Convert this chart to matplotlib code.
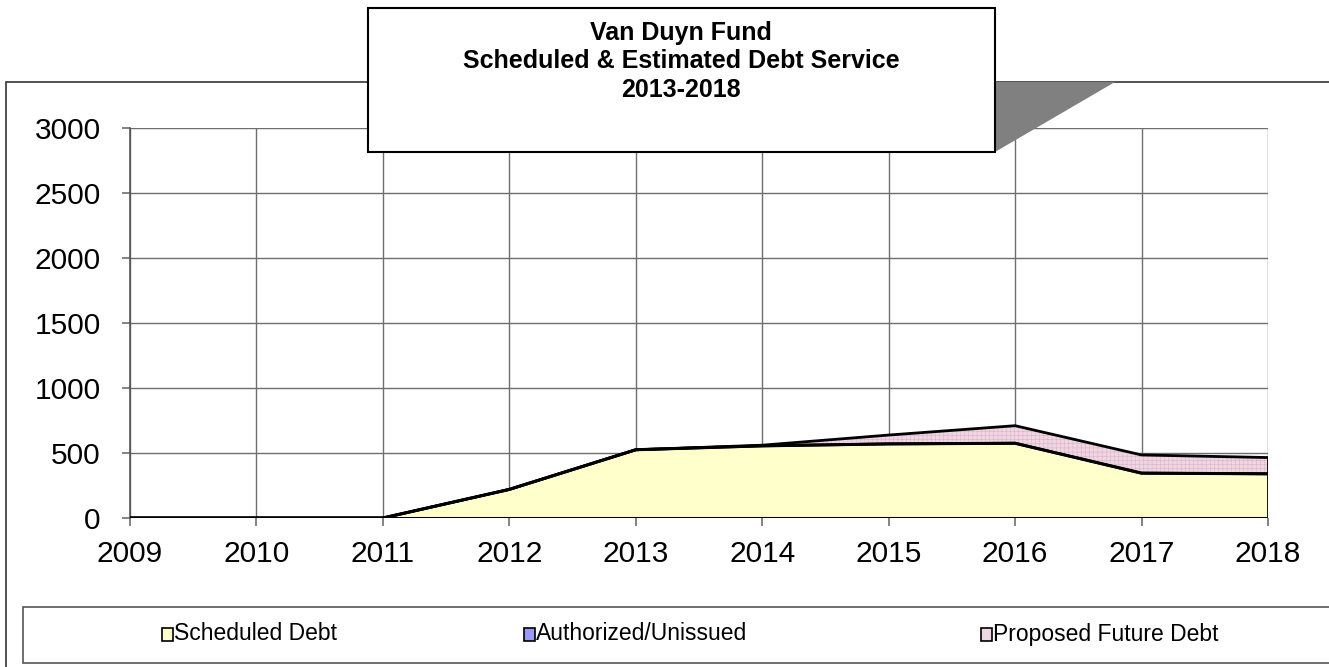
import numpy as np
import matplotlib
matplotlib.use("Agg")
import matplotlib.pyplot as plt
from matplotlib.patches import Rectangle, Polygon

plt.rcParams['font.family'] = ['Liberation Sans', 'DejaVu Sans']

# данные
years = [2009, 2010, 2011, 2012, 2013, 2014, 2015, 2016, 2017, 2018]
scheduled = [0, 0, 0, 220, 525, 555, 570, 575, 345, 340]
authorized = [0, 0, 0, 0, 0, 0, 0, 0, 0, 0]
proposed = [0, 0, 0, 0, 0, 5, 68, 135, 140, 125]

title_lines = ["Van Duyn Fund", "Scheduled & Estimated Debt Service", "2013-2018"]
legend_labels = ["Scheduled Debt", "Authorized/Unissued", "Proposed Future Debt"]
colors = ["#FFFFCC", "#9999FF", "#F0D6E2"]

W, H = 1329, 667
fig = plt.figure(figsize=(W / 100, H / 100), dpi=100)


def fx(x):
    return x / W


def fy(y):
    return 1 - y / H


ax = fig.add_axes([fx(130), fy(518), fx(1268) - fx(130), fy(128) - fy(518)])

s = np.array(scheduled, dtype=float)
a = s + np.array(authorized)
p = a + np.array(proposed)

ax.fill_between(years, 0, s, facecolor=colors[0], edgecolor='none', zorder=2)
ax.fill_between(years, s, a, facecolor=colors[1], edgecolor='none', zorder=2)
plt.rcParams['hatch.color'] = '#D8B4C6'
plt.rcParams['hatch.linewidth'] = 0.4
ax.fill_between(years, a, p, facecolor=colors[2], edgecolor='none', hatch='++++', zorder=2)
ax.plot(years, p, color='black', lw=2, zorder=3)
ax.plot(years, a, color='black', lw=2, zorder=3)
ax.plot(years, s, color='black', lw=2.2, zorder=3)
ax.plot([years[-1], years[-1]], [0, p[-1]], color='black', lw=2, zorder=3)
ax.axhline(0, color='black', lw=2.2, zorder=4)

ax.set_xlim(2009, 2018)
ax.set_ylim(0, 3000)
ax.set_xticks(years)
ax.set_yticks(range(0, 3001, 500))
ax.grid(True, color='#6E6E6E', lw=1.0, zorder=1)
ax.set_axisbelow(True)
for sp in ['top', 'right', 'bottom']:
    ax.spines[sp].set_visible(False)
ax.spines['left'].set_color('#555555')
ax.spines['left'].set_linewidth(1.2)
ax.tick_params(axis='both', direction='out', length=6, width=1.2, color='#6E6E6E',
               labelsize=21.5)
ax.tick_params(axis='y', pad=15)
ax.tick_params(axis='x', pad=10)

# внешняя рамка диаграммы
fig.patches.append(Rectangle((fx(6), fy(700)), fx(1400) - fx(6), fy(82) - fy(700),
                             transform=fig.transFigure, fill=False, edgecolor='#333333',
                             lw=1.2, zorder=0, clip_on=False))

# легенда
fig.patches.append(Rectangle((fx(23), fy(663)), fx(1400) - fx(23), fy(607) - fy(663),
                             transform=fig.transFigure, facecolor='white', edgecolor='#555555',
                             lw=1.2, zorder=5, clip_on=False))
leg_x = [162, 524, 981]
for lx, lab, col in zip(leg_x, legend_labels, colors):
    fig.patches.append(Rectangle((fx(lx), fy(641)), fx(11), 13 / H,
                                 transform=fig.transFigure, facecolor=col,
                                 edgecolor='black', lw=1.2, zorder=6))
    fig.text(fx(lx + 12), fy(634), lab, fontsize=16.5, va='center', ha='left', zorder=7)

# заголовок с тенью
fig.patches.append(Polygon([(fx(995), fy(82)), (fx(1115), fy(82)), (fx(995), fy(152))],
                           closed=True, transform=fig.transFigure, facecolor='#808080',
                           edgecolor='none', zorder=8))
fig.patches.append(Rectangle((fx(368), fy(152)), fx(995) - fx(368), fy(8) - fy(152),
                             transform=fig.transFigure, facecolor='white', edgecolor='black',
                             lw=1.5, zorder=9))
for i, line in enumerate(title_lines):
    fig.text(fx(681), fy(33 + 28.5 * i), line, fontsize=18, fontweight='bold',
             ha='center', va='center', zorder=10)

fig.savefig("out.png", dpi=100)
